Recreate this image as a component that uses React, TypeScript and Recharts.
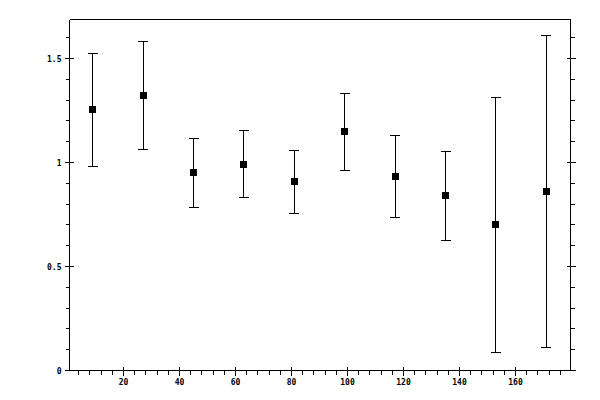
import { ScatterChart, Scatter, XAxis, YAxis, ErrorBar } from "recharts";

// bin centres and measured ratio with lower / upper limits
const binCenters = [9, 27, 45, 63, 81, 99, 117, 135, 153, 171];
const ratio = [1.254, 1.322, 0.951, 0.99, 0.908, 1.149, 0.932, 0.841, 0.701, 0.86];
const lowerLimit = [0.98, 1.062, 0.783, 0.831, 0.754, 0.961, 0.735, 0.624, 0.085, 0.109];
const upperLimit = [1.522, 1.58, 1.113, 1.152, 1.06, 1.33, 1.128, 1.055, 1.312, 1.611];

const xMajorTicks = [20, 40, 60, 80, 100, 120, 140, 160];
const yMajorTicks = [0, 0.5, 1, 1.5];
const yTickLabels = ["0", "0.5", "1", "1.5"];

const xTicks = Array.from({ length: 44 }, (_, i) => (i + 1) * 4);
const yTicks = Array.from({ length: 17 }, (_, i) => i / 10);

const X_DOMAIN: [number, number] = [0.714, 179.64];
const Y_DOMAIN: [number, number] = [0, 1.6875];

const data = binCenters.map((x, i) => ({
    x,
    y: ratio[i],
    err: [ratio[i] - lowerLimit[i], upperLimit[i] - ratio[i]],
}));

const isXMajor = (v: number) => xMajorTicks.includes(v);
const yMajorIndex = (v: number) => yMajorTicks.findIndex(t => Math.abs(t - v) < 1e-6);

const labelStyle = {
    fontFamily: "'DejaVu Sans Mono', monospace",
    fontSize: 8,
    fontWeight: 700,
    fill: "#000",
};

const BottomTick = ({ x, y, payload }: any) => {
    const major = isXMajor(payload.value);
    return (
        <g>
            <line x1={x} x2={x} y1={major ? y - 4 : y} y2={y + (major ? 5 : 4)} stroke="#000" />
            {major && (
                <text x={x} y={y + 14} textAnchor="middle" {...labelStyle}>
                    {payload.value}
                </text>
            )}
        </g>
    );
};

const TopTick = ({ x, y, payload }: any) => {
    const major = isXMajor(payload.value);
    return <line x1={x} x2={x} y1={y - (major ? 5 : 4)} y2={major ? y + 4 : y} stroke="#000" />;
};

const LeftTick = ({ x, y, payload }: any) => {
    const idx = yMajorIndex(payload.value);
    const major = idx >= 0;
    return (
        <g>
            <line x1={x - (major ? 5 : 4)} x2={major ? x + 4 : x} y1={y} y2={y} stroke="#000" />
            {major && (
                <text x={x - 8} y={y + 3} textAnchor="end" {...labelStyle}>
                    {yTickLabels[idx]}
                </text>
            )}
        </g>
    );
};

const RightTick = ({ x, y, payload }: any) => {
    const major = yMajorIndex(payload.value) >= 0;
    return <line x1={major ? x - 4 : x} x2={x + (major ? 5 : 4)} y1={y} y2={y} stroke="#000" />;
};

const SquareMarker = ({ cx, cy }: any) => (
    <rect x={Math.floor(cx) - 3} y={Math.floor(cy) - 3} width={7} height={7} fill="#000" />
);

export default function App() {
    return (
        <div style={{ position: "absolute", left: 0, top: 0, width: 600, height: 400, background: "#fff", shapeRendering: "crispEdges" }}>
            <ScatterChart width={600} height={400} margin={{ top: 9.5, right: 9.5, bottom: 4.5, left: 9.5 }}>
                <XAxis
                    xAxisId="bottom"
                    type="number"
                    dataKey="x"
                    orientation="bottom"
                    domain={X_DOMAIN}
                    allowDataOverflow
                    ticks={xTicks}
                    interval={0}
                    height={25}
                    tickSize={0}
                    tickMargin={0}
                    tickLine={false}
                    axisLine={{ stroke: "#000" }}
                    tick={<BottomTick />}
                />
                <XAxis
                    xAxisId="top"
                    type="number"
                    orientation="top"
                    domain={X_DOMAIN}
                    allowDataOverflow
                    ticks={xTicks}
                    interval={0}
                    height={10}
                    tickSize={0}
                    tickMargin={0}
                    tickLine={false}
                    axisLine={{ stroke: "#000" }}
                    tick={<TopTick />}
                />
                <YAxis
                    yAxisId="left"
                    type="number"
                    dataKey="y"
                    orientation="left"
                    domain={Y_DOMAIN}
                    allowDataOverflow
                    ticks={yTicks}
                    interval={0}
                    width={60}
                    tickSize={0}
                    tickMargin={0}
                    tickLine={false}
                    axisLine={{ stroke: "#000" }}
                    tick={<LeftTick />}
                />
                <YAxis
                    yAxisId="right"
                    type="number"
                    orientation="right"
                    domain={Y_DOMAIN}
                    allowDataOverflow
                    ticks={yTicks}
                    interval={0}
                    width={20}
                    tickSize={0}
                    tickMargin={0}
                    tickLine={false}
                    axisLine={{ stroke: "#000" }}
                    tick={<RightTick />}
                />
                <Scatter
                    data={data}
                    xAxisId="bottom"
                    yAxisId="left"
                    fill="#000"
                    shape={<SquareMarker />}
                    isAnimationActive={false}
                >
                    <ErrorBar dataKey="err" direction="y" width={5} stroke="#000" strokeWidth={1} isAnimationActive={false} />
                </Scatter>
            </ScatterChart>
        </div>
    );
}
